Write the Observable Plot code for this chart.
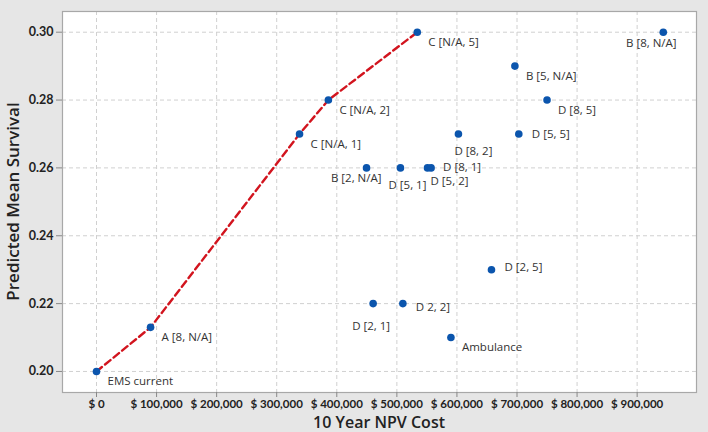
<!DOCTYPE html>
<html>
<head>
<meta charset="utf-8">
<script src="https://cdn.jsdelivr.net/npm/d3@7"></script>
<script src="https://cdn.jsdelivr.net/npm/@observablehq/plot@0.6"></script>
<style>
  html, body { margin: 0; padding: 0; background: #e6e6e6; }
  #chart { width: 708px; height: 432px; }
  svg { font-family: "Open Sans", "Noto Sans", sans-serif; }
</style>
</head>
<body>
<div id="chart"></div>
<script>
// ---- data ----
const labels = ["EMS current", "A [8, N/A]", "C [N/A, 1]", "C [N/A, 2]", "C [N/A, 5]",
  "B [2, N/A]", "D [5, 1]", "D [5, 2]", "D [8, 1]", "D [8, 2]",
  "B [5, N/A]", "D [8, 5]", "D [5, 5]", "B [8, N/A]", "D [2, 5]",
  "D [2, 1]", "D 2, 2]", "Ambulance"];
const cost = [0, 90000, 338000, 386000, 534000,
  449500, 506000, 551000, 557000, 602500,
  696500, 750000, 703000, 943500, 657500,
  460500, 510000, 590000];
const survival = [0.200, 0.213, 0.270, 0.280, 0.300,
  0.260, 0.260, 0.260, 0.260, 0.270,
  0.290, 0.280, 0.270, 0.300, 0.230,
  0.220, 0.220, 0.210];
const frontier = ["EMS current", "A [8, N/A]", "C [N/A, 1]", "C [N/A, 2]", "C [N/A, 5]"];
const xTicks = [0, 100000, 200000, 300000, 400000, 500000, 600000, 700000, 800000, 900000];
const yTicks = [0.20, 0.22, 0.24, 0.26, 0.28, 0.30];

const points = labels.map((l, i) => ({label: l, cost: cost[i], survival: survival[i]}));
const frontierPts = frontier.map(l => points.find(p => p.label === l));

// label placement (layout, not data)
const placement = {
  "B [2, N/A]": {textAnchor: "end", dx: 15, dy: 10},
  "D [5, 1]": {textAnchor: "middle", dx: 7, dy: 17},
  "D [5, 2]": {textAnchor: "start", dx: 3, dy: 13},
  "D [8, 1]": {textAnchor: "start", dx: 12, dy: -1},
  "D [8, 2]": {textAnchor: "start", dx: -4, dy: 17},
  "D [5, 5]": {textAnchor: "start", dx: 13, dy: 0},
  "B [8, N/A]": {textAnchor: "middle", dx: -12, dy: 11},
  "D [2, 5]": {textAnchor: "start", dx: 13, dy: -2},
  "D [2, 1]": {textAnchor: "middle", dx: -2, dy: 23},
  "D 2, 2]": {textAnchor: "start", dx: 13, dy: 4}
};
const defaultPlacement = {textAnchor: "start", dx: 11, dy: 10};

const labelMarks = points.map(p => {
  const pl = placement[p.label] || defaultPlacement;
  return Plot.text([p], {x: "cost", y: "survival", text: "label",
    textAnchor: pl.textAnchor, dx: pl.dx, dy: pl.dy,
    fill: "#333", fontSize: 11.5});
});

const chart = Plot.plot({
  width: 708,
  height: 432,
  marginLeft: 62,
  marginRight: 12,
  marginTop: 11,
  marginBottom: 40,
  style: {background: "#e6e6e6", fontFamily: "'Open Sans', 'Noto Sans', sans-serif"},
  x: {domain: [-56600, 998800], ticks: xTicks, label: null},
  y: {domain: [0.1938, 0.3061], ticks: yTicks, label: null},
  marks: [
    Plot.frame({fill: "white", stroke: "none"}),
    Plot.gridX(xTicks, {stroke: "#d0d0d0", strokeOpacity: 1, strokeDasharray: "4,3"}),
    Plot.gridY(yTicks, {stroke: "#d0d0d0", strokeOpacity: 1, strokeDasharray: "4,3"}),
    Plot.frame({stroke: "#a8a8a8", strokeWidth: 1.2}),
    Plot.axisX(xTicks, {tickSize: 5, tickPadding: 2, stroke: "#888", fill: "#222",
      fontSize: 11.5, fontWeight: 700, fontFamily: "Lato, sans-serif", label: null,
      tickFormat: d => "$ " + d3.format(",")(d)}),
    Plot.axisY(yTicks, {tickSize: 6, tickPadding: 3, stroke: "#888", fill: "#222",
      fontSize: 12.5, fontWeight: 700, fontFamily: "Lato, sans-serif", label: null,
      tickFormat: d3.format(".2f")}),
    Plot.line(frontierPts, {x: "cost", y: "survival", stroke: "#d2141e", strokeWidth: 2.4,
      strokeDasharray: "7,4"}),
    Plot.dot(points, {x: "cost", y: "survival", r: 3.8, fill: "#0b55ad", stroke: "none"}),
    ...labelMarks
  ]
});

// axis titles as real text inside the SVG
const svg = d3.select(chart);
svg.append("text")
  .attr("x", (62 + 696) / 2).attr("y", 428)
  .attr("text-anchor", "middle")
  .attr("font-size", 16).attr("font-weight", 600).attr("fill", "#222")
  .text("10 Year NPV Cost");
svg.append("text")
  .attr("transform", `translate(19, ${(11 + 392) / 2}) rotate(-90)`)
  .attr("text-anchor", "middle")
  .attr("font-size", 17).attr("font-weight", 600).attr("fill", "#222")
  .text("Predicted Mean Survival");

document.getElementById("chart").appendChild(chart);
</script>
</body>
</html>
